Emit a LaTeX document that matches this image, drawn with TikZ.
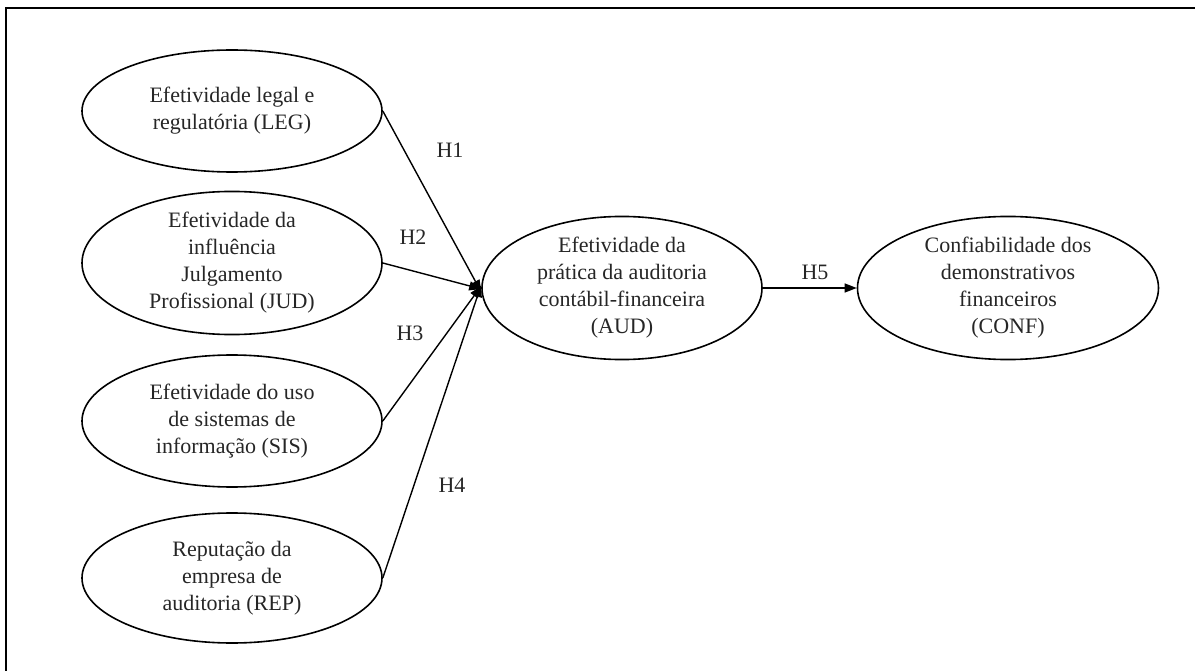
\documentclass[tikz,border=0pt]{standalone}
\usepackage{fontspec}
\setmainfont{Liberation Serif}
\usetikzlibrary{shapes.geometric,arrows.meta}
\begin{document}
\begin{tikzpicture}[x=1pt,y=-1pt,
  construct/.style={ellipse,draw,line width=1.6pt,inner sep=0pt,align=center,
    font=\fontsize{22}{27}\selectfont,text=black!85},
  hpath/.style={line width=1.4pt,-{Triangle[length=12pt,width=9pt]}},
  hlabel/.style={font=\fontsize{22}{27}\selectfont,inner sep=0pt,text=black!85}]
\useasboundingbox (0,0) rectangle (1195,671);
\draw[line width=2pt] (6,671) -- (6,8) -- (1195,8);
\node[construct,minimum width=300pt,minimum height=122pt] (LEG) at (232,111)
  {Efetividade legal e\\regulatória (LEG)};
\node[construct,minimum width=300pt,minimum height=130pt] (JUD) at (232,263)
  {Efetividade da\\influência\\Julgamento\\Profissional (JUD)};
\node[construct,minimum width=300pt,minimum height=132pt] (SIS) at (232,421)
  {Efetividade do uso\\de sistemas de\\informação (SIS)};
\node[construct,minimum width=300pt,minimum height=130pt] (REP) at (232,578)
  {Reputação da\\empresa de\\auditoria (REP)};
\node[construct,minimum width=280pt,minimum height=132pt] (AUD) at (622,288)
  {Efetividade da\\prática da auditoria\\contábil-financeira\\(AUD)};
\node[construct,minimum width=301pt,minimum height=120pt] (CONF) at (1008,288)
  {Confiabilidade dos\\demonstrativos\\financeiros\\(CONF)};
\draw[hpath] (LEG.east) -- ([yshift=-4pt]AUD.west);
\draw[hpath] (JUD.east) -- ([yshift=-1pt]AUD.west);
\draw[hpath] (SIS.east) -- ([yshift=2pt]AUD.west);
\draw[hpath] (REP.east) -- ([yshift=3pt]AUD.west);
\draw[hpath] (AUD.east) -- (CONF.west);
\node[hlabel] (h1) at (450,150) {H1};
\node[hlabel] (h2) at (413,237) {H2};
\node[hlabel] (h3) at (410,333) {H3};
\node[hlabel] (h4) at (452,485) {H4};
\node[hlabel] (h5) at (815,272) {H5};
\end{tikzpicture}
\end{document}
